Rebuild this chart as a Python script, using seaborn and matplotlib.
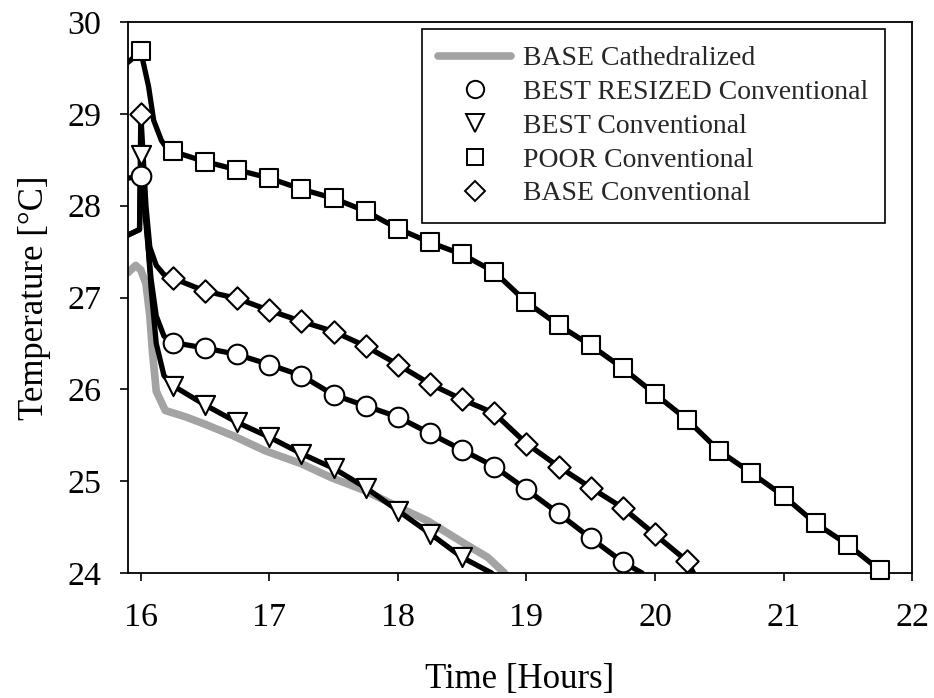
import numpy as np
import matplotlib
matplotlib.use("Agg")
import matplotlib.pyplot as plt
from matplotlib.lines import Line2D
import seaborn as sns

# BASE Cathedralized (grey line, no markers)
cath_t = [15.9, 15.96, 16.0, 16.04, 16.07, 16.09, 16.12, 16.19, 16.35, 16.5, 16.71,
          16.97, 17.25, 17.48, 17.74, 18.0, 18.23, 18.52, 18.7, 18.83]
cath_y = [27.27, 27.35, 27.3, 27.15, 26.8, 26.42, 25.98, 25.77, 25.70, 25.62, 25.50,
          25.33, 25.19, 25.04, 24.90, 24.72, 24.57, 24.32, 24.17, 24.0]

# BEST RESIZED Conventional (circles)
resized_t = [15.9, 16.0, 16.04, 16.08, 16.12, 16.18, 16.25, 16.5, 16.75, 17.0, 17.25,
             17.5, 17.75, 18.0, 18.25, 18.5, 18.75, 19.0, 19.25, 19.5, 19.75, 19.9]
resized_y = [28.3, 28.32, 27.8, 27.2, 26.8, 26.58, 26.51, 26.45, 26.38, 26.27, 26.15,
             25.94, 25.82, 25.70, 25.52, 25.34, 25.16, 24.91, 24.65, 24.38, 24.12, 24.0]

# BEST Conventional (triangles)
best_t = [15.9, 15.99, 16.0, 16.04, 16.08, 16.12, 16.18, 16.25, 16.5, 16.75, 17.0,
          17.25, 17.5, 17.75, 18.0, 18.25, 18.5, 18.73]
best_y = [27.68, 27.74, 28.55, 27.9, 27.1, 26.5, 26.15, 26.04, 25.83, 25.64, 25.48,
          25.30, 25.14, 24.93, 24.68, 24.43, 24.17, 24.0]

# POOR Conventional (squares)
poor_t = [15.9, 16.0, 16.06, 16.1, 16.16, 16.2, 16.25, 16.5, 16.75, 17.0, 17.25,
          17.5, 17.75, 18.0, 18.25, 18.5, 18.75, 19.0, 19.25, 19.5, 19.75, 20.0,
          20.25, 20.5, 20.75, 21.0, 21.25, 21.5, 21.75]
poor_y = [29.56, 29.68, 29.3, 28.93, 28.71, 28.63, 28.59, 28.48, 28.39, 28.30, 28.18,
          28.08, 27.94, 27.75, 27.60, 27.47, 27.28, 26.95, 26.70, 26.48, 26.23, 25.95,
          25.67, 25.33, 25.09, 24.84, 24.54, 24.31, 24.03]

# BASE Conventional (diamonds)
base_t = [15.9, 15.99, 16.0, 16.04, 16.07, 16.12, 16.18, 16.25, 16.5, 16.75, 17.0,
          17.25, 17.5, 17.75, 18.0, 18.25, 18.5, 18.75, 19.0, 19.25, 19.5, 19.75,
          20.0, 20.25, 20.3]
base_y = [27.68, 27.74, 29.0, 28.0, 27.55, 27.35, 27.25, 27.21, 27.07, 26.99, 26.86,
          26.74, 26.63, 26.47, 26.27, 26.06, 25.89, 25.74, 25.41, 25.16, 24.93, 24.71,
          24.42, 24.13, 24.0]

labels = ["BASE Cathedralized", "BEST RESIZED Conventional", "BEST Conventional",
          "POOR Conventional", "BASE Conventional"]
x_ticks = [16, 17, 18, 19, 20, 21, 22]
y_ticks = [24, 25, 26, 27, 28, 29, 30]

sns.set_theme(style="ticks")
plt.rcParams["font.family"] = ["Liberation Serif", "DejaVu Serif"]

fig = plt.figure(figsize=(9.34, 6.98), dpi=100)
ax = fig.add_axes([0.137, 0.179, 0.8395, 0.7895])


def on_quarter(t):
    t = np.asarray(t)
    r = (t * 4) % 1
    return np.isclose(r, 0) | np.isclose(r, 1)


sns.lineplot(x=cath_t, y=cath_y, color="#a3a3a3", lw=5.5, sort=False, ax=ax, zorder=2)

series = [
    (resized_t, resized_y, "o", 200),
    (best_t, best_y, "v", 190),
    (poor_t, poor_y, "s", 170),
    (base_t, base_y, "D", 130),
]
for t, y, m, s in series:
    sns.lineplot(x=t, y=y, color="black", lw=3.8, sort=False, ax=ax, zorder=3)
    mask = on_quarter(t)
    sns.scatterplot(x=np.asarray(t)[mask], y=np.asarray(y)[mask], marker=m, s=s,
                    facecolor="white", edgecolor="black", linewidth=1.5,
                    ax=ax, zorder=4, clip_on=False)

ax.set_xlim(15.9, 22)
ax.set_ylim(24, 30)
ax.set_xticks(x_ticks)
ax.set_yticks(y_ticks)
ax.tick_params(direction="out", length=6, width=1.2, colors="black",
               labelsize=24.5)
ax.tick_params(axis="x", pad=15)
ax.tick_params(axis="y", pad=13)
for sp in ax.spines.values():
    sp.set_visible(True)
    sp.set_color("black")
    sp.set_linewidth(1.3)

ax.set_xlabel("Time [Hours]", fontsize=25, labelpad=22, color="black")
ax.set_ylabel("Temperature [°C]", fontsize=25, labelpad=12, color="black")

handles = [
    Line2D([], [], color="#a3a3a3", lw=5.5),
    Line2D([], [], ls="none", marker="o", ms=12.5, mfc="white", mec="black", mew=1.4),
    Line2D([], [], ls="none", marker="v", ms=12.5, mfc="white", mec="black", mew=1.4),
    Line2D([], [], ls="none", marker="s", ms=11.5, mfc="white", mec="black", mew=1.4),
    Line2D([], [], ls="none", marker="D", ms=10.5, mfc="white", mec="black", mew=1.4),
]
leg = ax.legend(handles, labels, loc="upper right", bbox_to_anchor=(0.9656, 0.987),
                borderaxespad=0, fontsize=20, frameon=True, fancybox=False,
                edgecolor="black", handlelength=2.6, handletextpad=0.45,
                labelspacing=0.3, borderpad=0.6)
leg.get_frame().set_linewidth(1.2)
leg.get_frame().set_alpha(1)

fig.savefig("out.png", dpi=100, facecolor="white")
